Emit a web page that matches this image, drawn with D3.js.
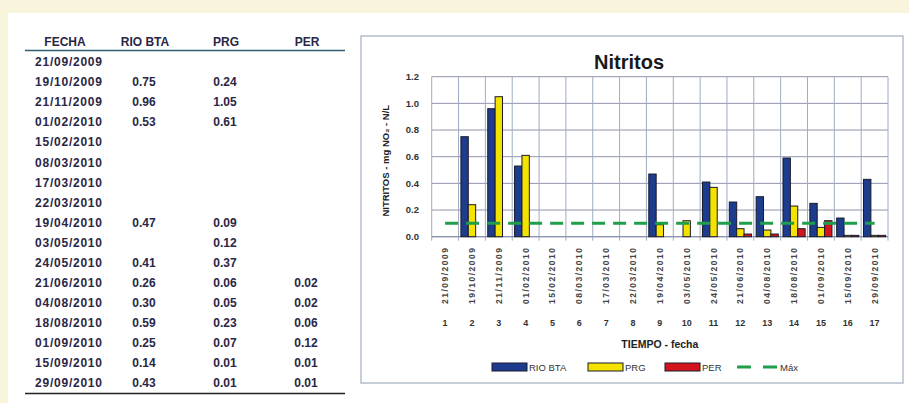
<!DOCTYPE html>
<html><head><meta charset="utf-8">
<script src="https://cdn.jsdelivr.net/npm/d3@7"></script>
<style>
html,body{margin:0;padding:0;background:#f9f5dd;}
svg{display:block;}
text{font-family:"Liberation Sans",Arial,sans-serif;}
</style></head>
<body>
<svg id="chart" width="909" height="403"></svg>
<script>
const dates = ["21/09/2009","19/10/2009","21/11/2009","01/02/2010","15/02/2010","08/03/2010","17/03/2010","22/03/2010","19/04/2010","03/05/2010","24/05/2010","21/06/2010","04/08/2010","18/08/2010","01/09/2010","15/09/2010","29/09/2010"];
const tiempo = [1,2,3,4,5,6,7,8,9,10,11,12,13,14,15,16,17];
const rioBta = [null,0.75,0.96,0.53,null,null,null,null,0.47,null,0.41,0.26,0.30,0.59,0.25,0.14,0.43];
const prg = [null,0.24,1.05,0.61,null,null,null,null,0.09,0.12,0.37,0.06,0.05,0.23,0.07,0.01,0.01];
const per = [null,null,null,null,null,null,null,null,null,null,null,0.02,0.02,0.06,0.12,0.01,0.01];
const maxLimit = [0.1,0.1,0.1,0.1,0.1,0.1,0.1,0.1,0.1,0.1,0.1,0.1,0.1,0.1,0.1,0.1,0.1];
const yTicks = [0,0.2,0.4,0.6,0.8,1.0,1.2];
const tableHeaders = ["FECHA","RIO BTA","PRG","PER"];
const seriesNames = ["RIO BTA","PRG","PER"];
const seriesColors = ["#1d3c8e","#f4e300","#d3141c"];

const svg = d3.select("#chart");
const fmt = d3.format(".2f");
const textColor = "#2a2646";

// white panel
svg.append("rect").attr("x",8).attr("y",13).attr("width",901).attr("height",390).attr("fill","#ffffff");

// ---------- TABLE ----------
const colX = [65,145,226,307];
const tbl = svg.append("g");
tbl.selectAll("text.h").data(tableHeaders).join("text")
  .attr("x",(d,i)=>colX[i]).attr("y",46).attr("text-anchor","middle")
  .attr("font-size",12).attr("font-weight","bold").attr("fill",textColor).text(d=>d);
tbl.append("line").attr("x1",25).attr("x2",345).attr("y1",50.5).attr("y2",50.5)
  .attr("stroke","#2f5f70").attr("stroke-width",1.6);
const rowY = d3.scaleLinear().domain([0,16]).range([62,383]);
dates.forEach((d,i)=>{
  const y = rowY(i)+4.2;
  tbl.append("text").attr("x",35).attr("y",y).attr("font-size",12).attr("font-weight","bold")
    .attr("fill",textColor).attr("textLength",67).text(d);
  [rioBta,prg,per].forEach((arr,j)=>{
    if(arr[i]!=null) tbl.append("text").attr("x",colX[j+1]-1).attr("y",y).attr("text-anchor","middle")
      .attr("font-size",12).attr("font-weight","bold").attr("fill",textColor).text(fmt(arr[i]));
  });
});
tbl.append("line").attr("x1",25).attr("x2",345).attr("y1",393.5).attr("y2",393.5)
  .attr("stroke","#222").attr("stroke-width",1.6);

// ---------- CHART BOX ----------
svg.append("rect").attr("x",361).attr("y",36).attr("width",542).attr("height",347)
  .attr("fill","#fff").attr("stroke","#b4c0cc").attr("stroke-width",1.5);

const plotL=431.7, plotR=888, plotT=76.7, plotB=236.7;
const x = d3.scaleBand().domain(tiempo).range([plotL,plotR]).paddingInner(0).paddingOuter(0);
const y = d3.scaleLinear().domain([0,1.2]).range([plotB,plotT]);
const xs = d3.scaleBand().domain(seriesNames).range([0,x.bandwidth()]).paddingInner(0).paddingOuter(0.32);

const g = svg.append("g");
// gridlines
g.selectAll("line.hg").data(yTicks).join("line")
  .attr("x1",plotL).attr("x2",plotR).attr("y1",d=>y(d)).attr("y2",d=>y(d))
  .attr("stroke","#9195ae").attr("stroke-width",1);
g.selectAll("line.vg").data(tiempo).join("line")
  .attr("x1",d=>x(d)).attr("x2",d=>x(d)).attr("y1",plotT).attr("y2",plotB+4)
  .attr("stroke","#9eacc4").attr("stroke-width",1);
g.append("line").attr("x1",plotR).attr("x2",plotR).attr("y1",plotT).attr("y2",plotB+4)
  .attr("stroke","#9eacc4");
g.append("line").attr("x1",plotL).attr("x2",plotR).attr("y1",plotB).attr("y2",plotB)
  .attr("stroke","#8a93ad").attr("stroke-width",1.2);

// bars
[rioBta,prg,per].forEach((arr,j)=>{
  g.selectAll(null).data(tiempo.map((t,i)=>({t,v:arr[i]})).filter(d=>d.v!=null)).join("rect")
    .attr("x",d=>x(d.t)+xs(seriesNames[j])).attr("width",xs.bandwidth())
    .attr("y",d=>y(d.v)).attr("height",d=>plotB-y(d.v))
    .attr("fill",seriesColors[j]).attr("stroke","#1a1a2a").attr("stroke-width",1);
});

// max line
const line = d3.line().x((d,i)=>x(tiempo[i])+x.bandwidth()/2).y(d=>y(d));
g.append("path").attr("d",line(maxLimit)).attr("fill","none")
  .attr("stroke","#1f9e4c").attr("stroke-width",3).attr("stroke-dasharray","13,8");

// y axis labels
g.selectAll("text.yt").data(yTicks).join("text")
  .attr("x",419).attr("y",d=>y(d)+3.3).attr("text-anchor","end")
  .attr("font-size",9.5).attr("font-weight","bold").attr("fill","#333").text(d=>d3.format(".1f")(d));
// y title
g.append("text").attr("transform",`translate(389,${(plotT+plotB)/2+4}) rotate(-90)`)
  .attr("text-anchor","middle").attr("font-size",9.5).attr("font-weight","bold").attr("fill","#222")
  .text("NITRITOS - mg NO₂ - N/L");

// x date labels
g.selectAll("text.xd").data(tiempo).join("text")
  .attr("transform",(d,i)=>`translate(${x(d)+x.bandwidth()/2+3},304) rotate(-90)`)
  .attr("text-anchor","start").attr("font-size",8.5).attr("fill","#444").attr("font-weight","bold")
  .attr("textLength",56).text((d,i)=>dates[i]);
// tiempo numbers
g.selectAll("text.xn").data(tiempo).join("text")
  .attr("x",d=>x(d)+x.bandwidth()/2).attr("y",326).attr("text-anchor","middle")
  .attr("font-size",9).attr("font-weight","bold").attr("fill","#333").text(d=>d);

// x title
g.append("text").attr("x",(plotL+plotR)/2).attr("y",348).attr("text-anchor","middle")
  .attr("font-size",10.5).attr("font-weight","bold").attr("fill","#222").text("TIEMPO - fecha");

// title
svg.append("text").attr("x",629).attr("y",69).attr("text-anchor","middle")
  .attr("font-size",20).attr("font-weight","bold").attr("fill","#1a1a1a").text("Nitritos");

// legend
const lg = svg.append("g");
const legX = [492,588,665];
seriesNames.forEach((s,j)=>{
  lg.append("rect").attr("x",legX[j]).attr("y",363).attr("width",35).attr("height",8)
    .attr("fill",seriesColors[j]).attr("stroke","#1a1a2a").attr("stroke-width",1);
  lg.append("text").attr("x",legX[j]+37).attr("y",370.5).attr("font-size",9.5)
    .attr("fill","#333").text(s);
});
lg.append("line").attr("x1",737).attr("x2",778).attr("y1",367).attr("y2",367)
  .attr("stroke","#1f9e4c").attr("stroke-width",3).attr("stroke-dasharray","14,12");
lg.append("text").attr("x",780).attr("y",370.5).attr("font-size",9.5).attr("fill","#333").text("Máx");
</script>
</body></html>
